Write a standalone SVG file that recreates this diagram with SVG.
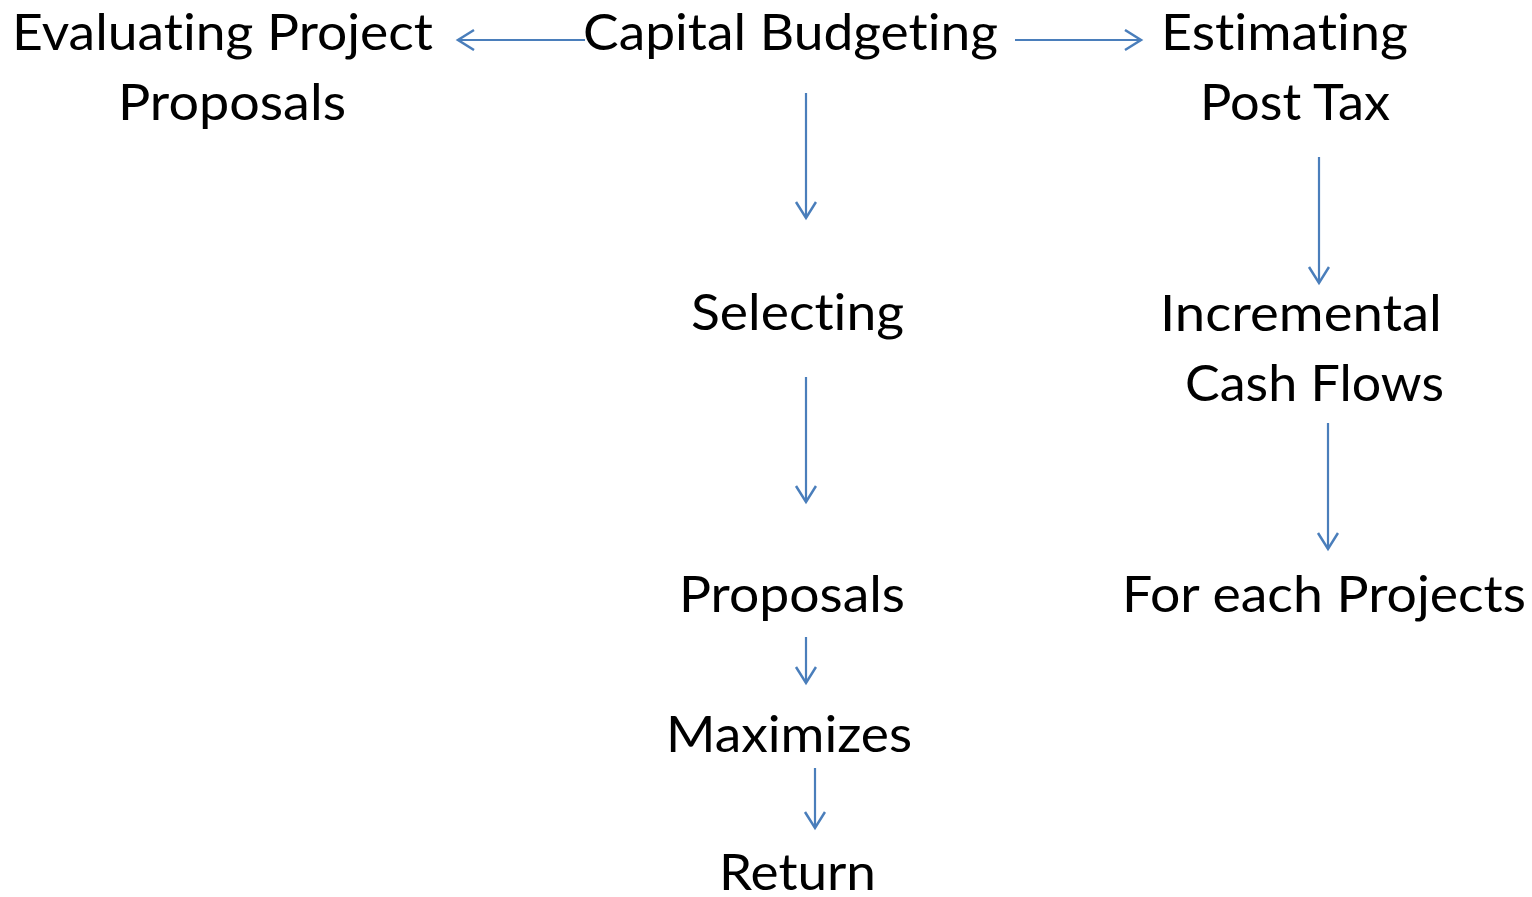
<svg xmlns="http://www.w3.org/2000/svg" width="1532" height="897" viewBox="0 0 1532 897">
<defs>
<marker id="arr" markerWidth="22" markerHeight="24" refX="17" refY="11" orient="auto" markerUnits="userSpaceOnUse">
<path d="M1,1 L17,11 L1,21" fill="none" stroke="#4a7ebb" stroke-width="2.5"/>
</marker>
</defs>
<style>
.t{font-family:Lato,"Open Sans","Liberation Sans",sans-serif;font-size:50px;fill:#000;font-variant-ligatures:none}
.c{stroke:#4a7ebb;stroke-width:2.2;fill:none;marker-end:url(#arr)}
</style>
<rect width="1532" height="897" fill="#fff"/>
<g id="connectors">
<line class="c" x1="585" y1="40" x2="458" y2="40"/>
<line class="c" x1="1015" y1="40" x2="1141" y2="40"/>
<line class="c" x1="806" y1="93" x2="806" y2="218"/>
<line class="c" x1="806" y1="377" x2="806" y2="502"/>
<line class="c" x1="806" y1="637" x2="806" y2="683"/>
<line class="c" x1="815" y1="768" x2="815" y2="828"/>
<line class="c" x1="1319" y1="157" x2="1319" y2="283"/>
<line class="c" x1="1328" y1="423" x2="1328" y2="549"/>
</g>
<g id="capital"><text class="t" x="583" y="50" textLength="415" lengthAdjust="spacingAndGlyphs">Capital Budgeting</text></g>
<g id="evaluating">
<text class="t" x="12" y="50" textLength="421" lengthAdjust="spacingAndGlyphs">Evaluating Project</text>
<text class="t" x="118" y="120" textLength="228" lengthAdjust="spacingAndGlyphs">Proposals</text>
</g>
<g id="estimating">
<text class="t" x="1161" y="50" textLength="247" lengthAdjust="spacingAndGlyphs">Estimating</text>
<text class="t" x="1200" y="120" textLength="190" lengthAdjust="spacingAndGlyphs">Post Tax</text>
</g>
<g id="selecting"><text class="t" x="691" y="330" textLength="213" lengthAdjust="spacingAndGlyphs">Selecting</text></g>
<g id="incremental">
<text class="t" x="1160" y="331" textLength="282" lengthAdjust="spacingAndGlyphs">Incremental</text>
<text class="t" x="1185" y="401" textLength="259" lengthAdjust="spacingAndGlyphs">Cash Flows</text>
</g>
<g id="proposals"><text class="t" x="679" y="612" textLength="226" lengthAdjust="spacingAndGlyphs">Proposals</text></g>
<g id="foreach"><text class="t" x="1122" y="612" textLength="404" lengthAdjust="spacingAndGlyphs">For each Projects</text></g>
<g id="maximizes"><text class="t" x="666" y="752" textLength="246" lengthAdjust="spacingAndGlyphs">Maximizes</text></g>
<g id="return"><text class="t" x="719" y="890" textLength="157" lengthAdjust="spacingAndGlyphs">Return</text></g>
</svg>
